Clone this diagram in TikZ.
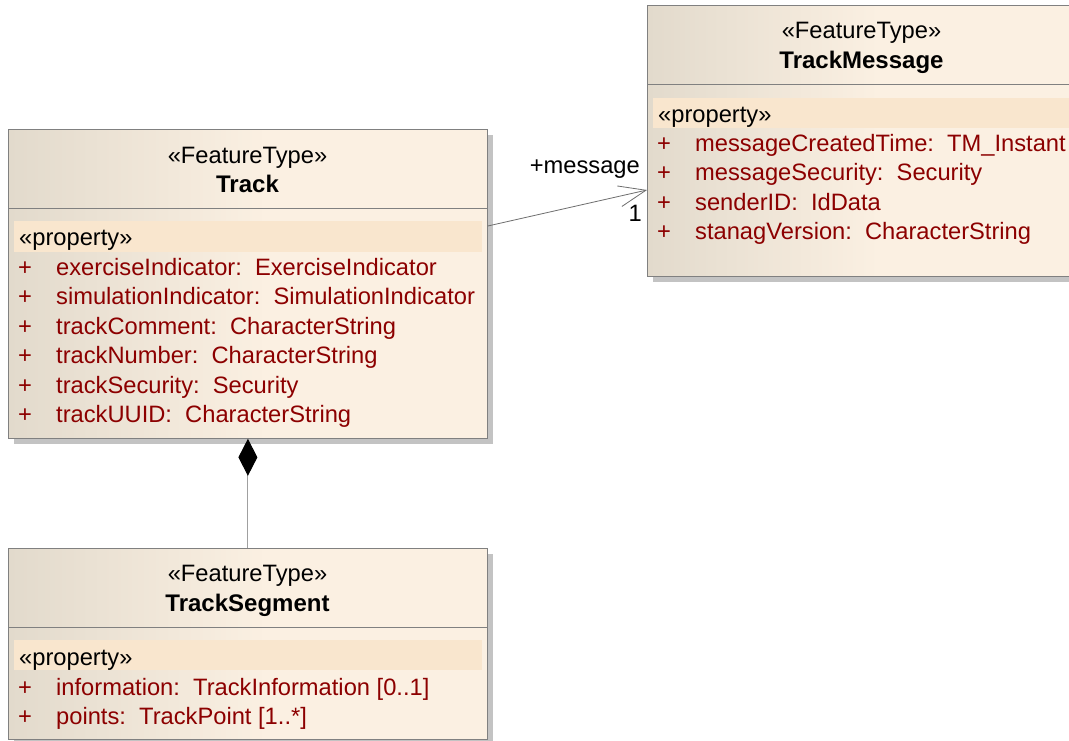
\documentclass[tikz,border=0pt]{standalone}
\usepackage{fontspec}
\setmainfont{Liberation Sans}
\usetikzlibrary{arrows.meta,shadows}
\definecolor{bordergray}{RGB}{128,128,128}
\definecolor{fillL}{RGB}{226,218,204}
\definecolor{fillR}{RGB}{251,240,226}
\definecolor{bandc}{RGB}{249,230,206}
\definecolor{attrred}{RGB}{140,0,0}
\definecolor{shadowc}{RGB}{195,195,195}
\definecolor{assocc}{RGB}{110,110,110}
\definecolor{compc}{RGB}{160,160,160}
\pgfdeclarehorizontalshading{umlfill}{100bp}{color(0bp)=(fillL); color(25bp)=(fillL); color(52bp)=(fillR); color(100bp)=(fillR)}
\tikzset{
  umlclass/.style={draw=bordergray, line width=0.8pt, shading=umlfill, rectangle, inner sep=0pt, anchor=north west,
    drop shadow={shadow xshift=6pt, shadow yshift=-6pt, fill=shadowc, opacity=1}},
  divider/.style={draw=bordergray, line width=0.8pt},
  band/.style={fill=bandc},
  stereo/.style={anchor=base, inner sep=0pt, text=black},
  title/.style={anchor=base, inner sep=0pt, text=black, font=\fontsize{24pt}{28pt}\selectfont\bfseries},
  proptag/.style={anchor=base west, inner sep=0pt, text=black},
  attr/.style={anchor=base west, inner sep=0pt, text=attrred},
  assocline/.style={draw=assocc, line width=0.8pt},
  compline/.style={draw=compc, line width=1pt},
  rolelabel/.style={anchor=base east, inner sep=0pt, text=black}
}
\begin{document}
\begin{tikzpicture}[x=1pt, y=-1pt, font=\fontsize{23.7pt}{28pt}\selectfont]
\useasboundingbox (0,0) rectangle (1069,740);
\clip (0,0) rectangle (1069,740);
\fill[white] (0,0) rectangle (1069,740);

% ---- Track ----
\node[umlclass, minimum width=479pt, minimum height=309pt] (track) at (8,129) {};
\draw[divider] ([yshift=-79pt]track.north west) -- ([yshift=-79pt]track.north east);
\fill[band] ([shift={(6,92)}]track.north west) rectangle ([shift={(-6,123)}]track.north east);
\node[stereo] (tft) at (247.5,163) {«FeatureType»};
\node[title] (tname) at (247.5,192) {Track};
\node[proptag] (tprop) at (19,245) {«property»};
\node[attr] (tp1) at (18,275) {+};
\node[attr] (ta1) at (56,275) {exerciseIndicator:\ \ ExerciseIndicator};
\node[attr] (tp2) at (18,304.5) {+};
\node[attr] (ta2) at (56,304.5) {simulationIndicator:\ \ SimulationIndicator};
\node[attr] (tp3) at (18,334) {+};
\node[attr] (ta3) at (56,334) {trackComment:\ \ CharacterString};
\node[attr] (tp4) at (18,363.5) {+};
\node[attr] (ta4) at (56,363.5) {trackNumber:\ \ CharacterString};
\node[attr] (tp5) at (18,393) {+};
\node[attr] (ta5) at (56,393) {trackSecurity:\ \ Security};
\node[attr] (tp6) at (18,422.5) {+};
\node[attr] (ta6) at (56,422.5) {trackUUID:\ \ CharacterString};

% ---- TrackMessage ----
\node[umlclass, minimum width=429pt, minimum height=271pt] (tmsg) at (647,5) {};
\draw[divider] ([yshift=-79pt]tmsg.north west) -- ([yshift=-79pt]tmsg.north east);
\fill[band] ([shift={(6,93)}]tmsg.north west) rectangle ([shift={(-6,123)}]tmsg.north east);
\node[stereo] (mft) at (861.5,38) {«FeatureType»};
\node[title] (mname) at (861.5,68) {TrackMessage};
\node[proptag] (mprop) at (658,122) {«property»};
\node[attr] (mp1) at (657,151) {+};
\node[attr] (ma1) at (695,151) {messageCreatedTime:\ \ TM\_Instant};
\node[attr] (mp2) at (657,180.5) {+};
\node[attr] (ma2) at (695,180.5) {messageSecurity:\ \ Security};
\node[attr] (mp3) at (657,210) {+};
\node[attr] (ma3) at (695,210) {senderID:\ \ IdData};
\node[attr] (mp4) at (657,239.5) {+};
\node[attr] (ma4) at (695,239.5) {stanagVersion:\ \ CharacterString};

% ---- TrackSegment ----
\node[umlclass, minimum width=479pt, minimum height=191pt] (tseg) at (8,548) {};
\draw[divider] ([yshift=-79pt]tseg.north west) -- ([yshift=-79pt]tseg.north east);
\fill[band] ([shift={(6,92)}]tseg.north west) rectangle ([shift={(-6,122)}]tseg.north east);
\node[stereo] (sft) at (247.5,581) {«FeatureType»};
\node[title] (sname) at (247.5,611) {TrackSegment};
\node[proptag] (sprop) at (19,665) {«property»};
\node[attr] (sp1) at (18,695) {+};
\node[attr] (sa1) at (56,695) {information:\ \ TrackInformation [0..1]};
\node[attr] (sp2) at (18,724) {+};
\node[attr] (sa2) at (56,724) {points:\ \ TrackPoint [1..*]};

% ---- Association Track -> TrackMessage ----
\draw[assocline, -{Straight Barb[length=27pt,width=21pt]}]
  ([yshift=-97pt]track.north east) -- ([yshift=-185pt]tmsg.north west);
\node[rolelabel] (lmsg) at (640,173) {+message};
\node[rolelabel] (lone) at (642,221) {1};

% ---- Composition Track <>- TrackSegment ----
\draw[compline, {Diamond[length=37pt,width=19pt,color=black,fill=black]}-] (track.south) -- (tseg.north);
\end{tikzpicture}
\end{document}
